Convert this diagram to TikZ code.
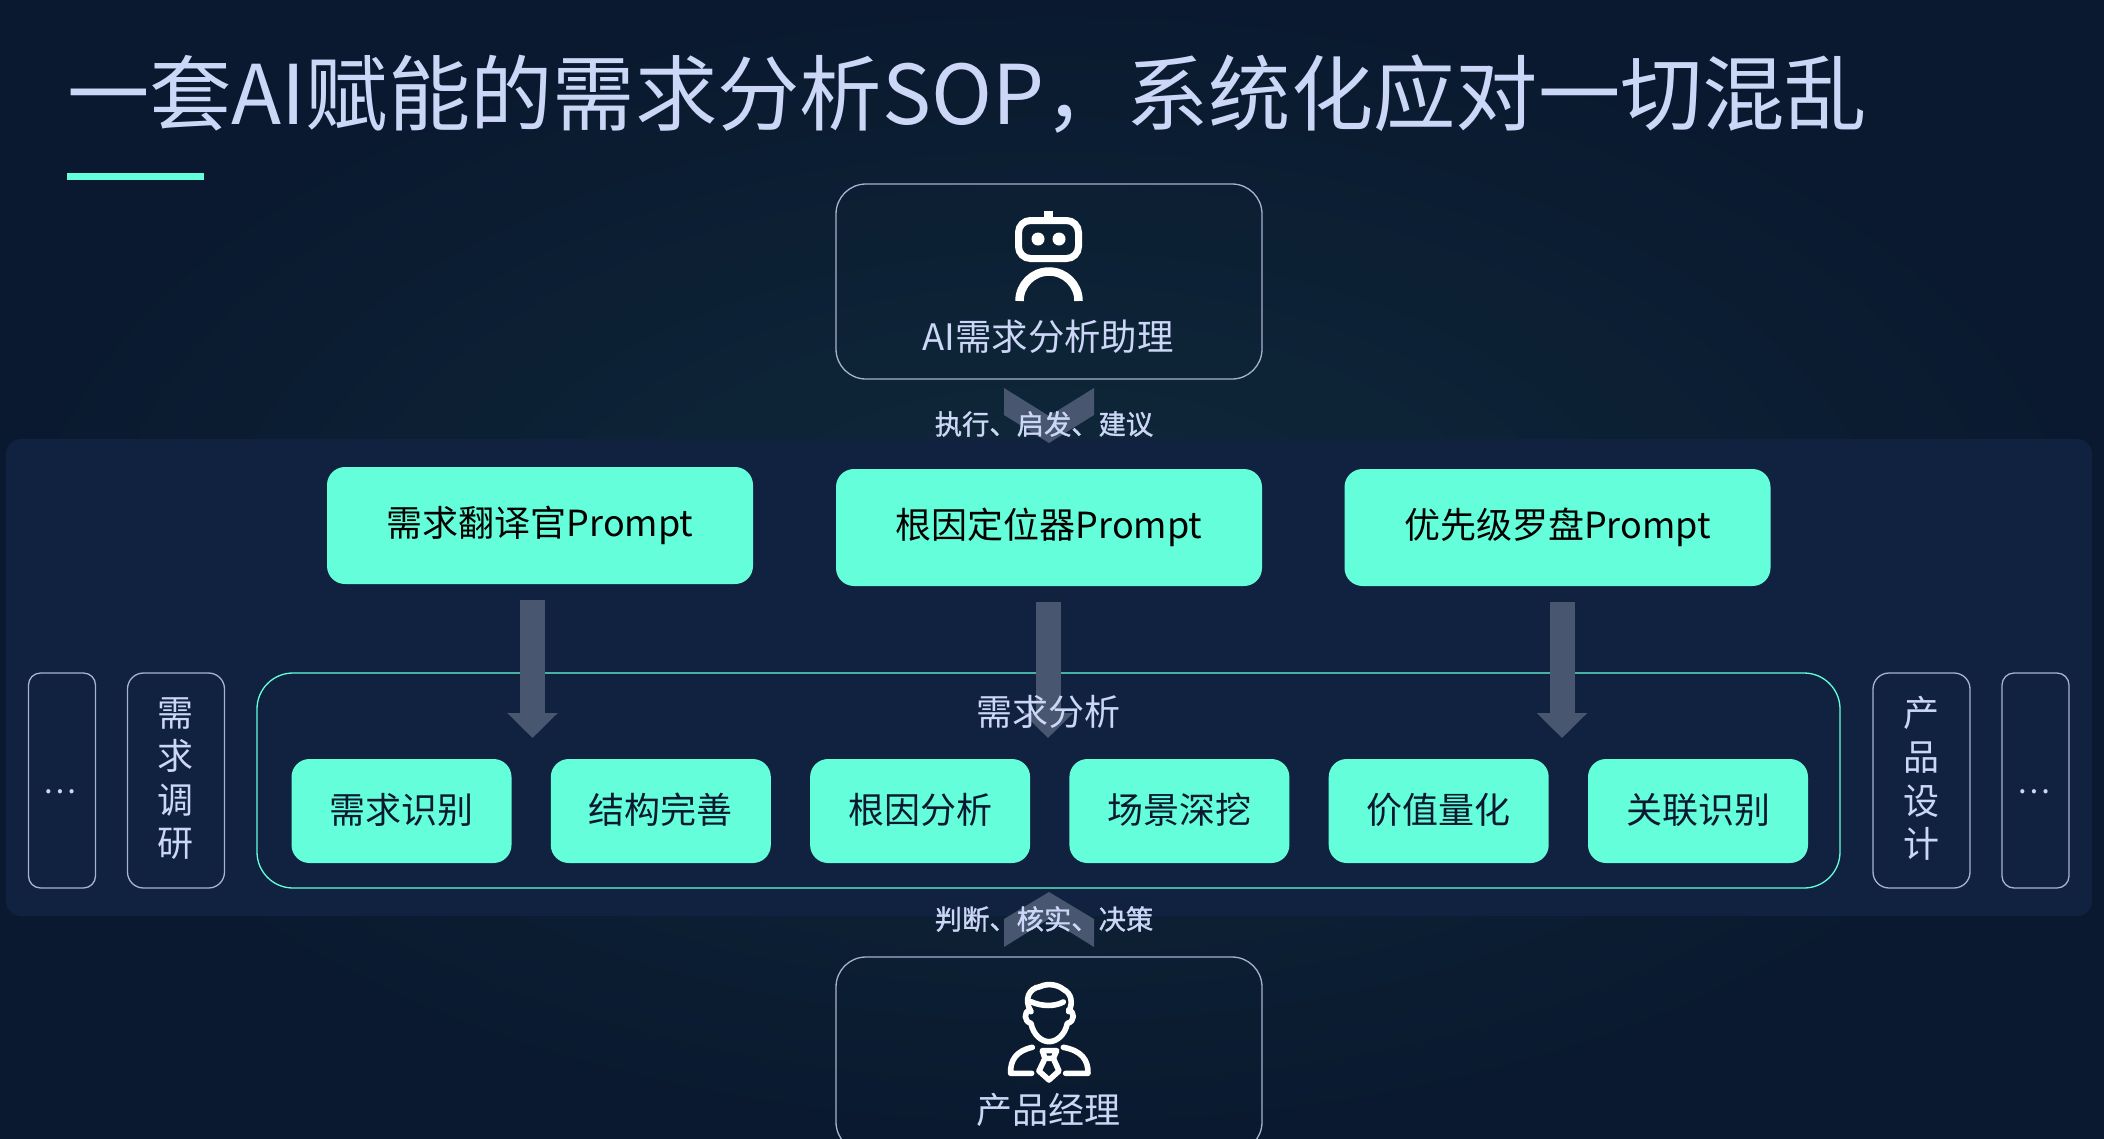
\documentclass[tikz,border=0pt]{standalone}
\usepackage{fontspec}
\usetikzlibrary{arrows.meta}
\setmainfont{Noto Sans CJK SC}
\newfontfamily\midfont[FakeBold=1.2]{Noto Sans CJK SC}
\definecolor{navybg}{HTML}{0A192F}
\definecolor{glowbg}{HTML}{0F2A3B}
\definecolor{bandbg}{HTML}{112240}
\definecolor{mintc}{HTML}{64FFDA}
\definecolor{palec}{HTML}{CCD6F6}
\definecolor{edgec}{HTML}{A8B2D1}
\definecolor{slatec}{HTML}{495670}
\tikzset{
  rolebox/.style={draw=edgec, line width=1.3pt, rounded corners=30pt, minimum width=426pt, text=palec, inner sep=0pt},
  promptbox/.style={fill=mintc, rounded corners=18pt, minimum width=426pt, minimum height=117pt, inner sep=0pt, text=black, font=\fontsize{36}{36}\selectfont},
  stepbox/.style={fill=mintc, rounded corners=18pt, minimum width=220pt, minimum height=104pt, inner sep=0pt, text=navybg, font=\fontsize{36}{36}\selectfont},
  sidebox/.style={draw=edgec, line width=1.3pt, rounded corners=16pt, minimum height=215pt, inner sep=0pt, text=palec},
  sidetext/.style={inner sep=0pt, text=palec, align=center, font=\fontsize{36}{43.6}\selectfont},
  flowarrow/.style={draw=slatec, line width=25pt, shorten <=16pt, -{Triangle[width=49pt,length=25pt]}},
  chevron/.style={fill=slatec},
  hinttext/.style={text=palec, inner sep=0pt, font=\fontsize{27.3}{27}\midfont},
  iconline/.style={draw=white, line width=17pt, line cap=round, line join=round},
}
\begin{document}
\begin{tikzpicture}[x=1pt,y=-1pt]
  % 背景
  \clip (0,0) rectangle (2104,1138);
  \shade[inner color=glowbg, outer color=navybg] (0,0) rectangle (2104,1138);
  \fill[bandbg, rounded corners=15pt] (6,439) rectangle (2092,916);

  % 标题
  \node[anchor=west, inner sep=0pt, text=palec, font=\fontsize{82.3}{82}\selectfont] (title) at (67,94.5) {一套AI赋能的需求分析SOP，系统化应对一切混乱};
  \fill[mintc] (67,173) rectangle (204,180);

  % 上下两个角色
  \node[rolebox, minimum height=195pt] (aibox) at (1049,281.5) {};
  \node[rolebox, minimum height=195pt] (pmbox) at (1049,1054.5) {};
  \node[text=palec, inner sep=0pt, font=\fontsize{36.4}{36}\selectfont] (ailabel) at (1048,337) {AI需求分析助理};
  \node[text=palec, inner sep=0pt, font=\fontsize{36}{36}\selectfont] (pmlabel) at (1048,1110) {产品经理};

  % 机器人图标
  \fill[white] (1044,211) rectangle (1053,220);
  \draw[draw=white, line width=7pt, rounded corners=12pt] (1018.5,220.5) rectangle (1078.5,258.5);
  \fill[white] (1038,239) circle (6.5pt);
  \fill[white] (1059,239) circle (6.5pt);
  \draw[draw=white, line width=8.5pt] (1019.5,301) arc[start angle=180, end angle=0, radius=29.5pt];

  % 经理图标
  \begin{scope}[shift={(800,860)}, x=0.3333pt, y=-0.3333pt]
    \begin{scope}[iconline/.append style={line width=5.6pt}]
      \draw[iconline] (693,455) .. controls (672,420) and (685,385) .. (720,380) .. controls (745,368) and (775,375) .. (790,388) .. controls (815,400) and (820,430) .. (806,455);
      \draw[iconline] (693,425) .. controls (725,440) and (765,440) .. (790,426);
      \draw[iconline] (690,450) .. controls (670,455) and (672,485) .. (693,490) .. controls (700,525) and (725,545) .. (747,545) .. controls (770,545) and (795,525) .. (802,490) .. controls (825,485) and (825,455) .. (806,450);
      \draw[iconline] (697,562) .. controls (650,572) and (630,600) .. (632,640) -- (695,640);
      \draw[iconline] (790,562) .. controls (845,572) and (865,600) .. (864,640) -- (797,640);
      \draw[iconline] (727,572) -- (770,572) -- (760,595) -- (735,595) -- cycle;
      \draw[iconline] (735,595) -- (717,633) -- (747,660) -- (777,633) -- (760,595);
    \end{scope}
  \end{scope}

  % 上下两个折线箭头
  \fill[chevron] (1004,388) -- (1049,416) -- (1094,388) -- (1094,415) -- (1049,443) -- (1004,415) -- cycle;
  \fill[chevron] (1004,947) -- (1049,919) -- (1094,947) -- (1094,919) -- (1049,892) -- (1004,919) -- cycle;
  \node[hinttext] (hinttop) at (1044,424) {执行、启发、建议};
  \node[hinttext] (hintbot) at (1044,919) {判断、核实、决策};

  % 需求分析外框
  \node[draw=mintc, line width=1.3pt, rounded corners=36pt, minimum width=1583pt, minimum height=215pt, inner sep=0pt] (stagebox) at (1048.5,780.5) {};

  % 三个Prompt
  \node[promptbox] (transbox) at (540,525.5) {\raisebox{-5pt}{需求翻译官Prompt}};
  \node[promptbox] (rootbox) at (1049,527.5) {\raisebox{-5pt}{根因定位器Prompt}};
  \node[promptbox] (rankbox) at (1557.5,527.5) {\raisebox{-5pt}{优先级罗盘Prompt}};

  % 竖向箭头
  \coordinate (tipa) at (532.5,738);
  \coordinate (tipb) at (1048,738);
  \coordinate (tipc) at (1562,738);
  \draw[flowarrow] (tipa |- transbox.south) -- (tipa);
  \draw[flowarrow] (tipb |- rootbox.south) -- (tipb);
  \draw[flowarrow] (tipc |- rankbox.south) -- (tipc);

  \node[text=palec, inner sep=0pt, font=\fontsize{36}{36}\selectfont] (stagelabel) at (1048,712) {需求分析};

  % 六个步骤
  \foreach \i/\name in {0/需求识别,1/结构完善,2/根因分析,3/场景深挖,4/价值量化,5/关联识别} {
    \node[stepbox] (step\i) at (401.5+259.3*\i,811) {\raisebox{5pt}{\name}};
  }

  % 两侧
  \node[sidebox, minimum width=67pt, rounded corners=12pt] (dotsl) at (62,780.5) {};
  \node[sidebox, minimum width=97pt] (leftstage) at (176,780.5) {};
  \node[sidebox, minimum width=97pt] (rightstage) at (1921.5,780.5) {};
  \node[sidebox, minimum width=67pt, rounded corners=12pt] (dotsr) at (2035.5,780.5) {};
  \node[sidetext, font=\fontsize{31}{31}\selectfont] (dotsltext) at (60,792) {…};
  \node[sidetext] (leftstagetext) at (175,778.5) {需\\求\\调\\研};
  \node[sidetext] (rightstagetext) at (1921,778.5) {产\\品\\设\\计};
  \node[sidetext, font=\fontsize{31}{31}\selectfont] (dotsrtext) at (2034,792) {…};
\end{tikzpicture}
\end{document}
